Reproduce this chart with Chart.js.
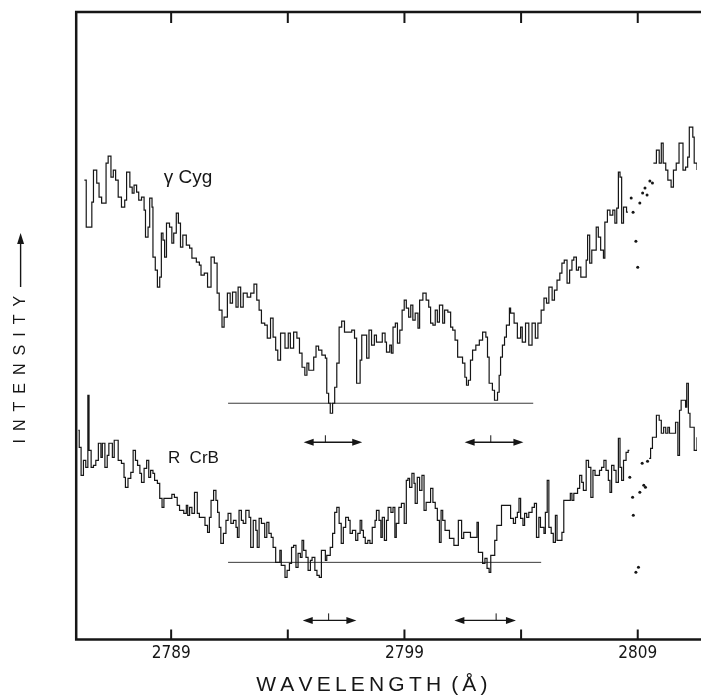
<!DOCTYPE html>
<html>
<head>
<meta charset="utf-8">
<script src="https://cdn.jsdelivr.net/npm/chart.js@4.4.1/dist/chart.umd.min.js"></script>
<style>
html,body{margin:0;padding:0;background:#fff;}
#wrap{width:701px;height:700px;position:relative;}
</style>
</head>
<body>
<div id="wrap"><canvas id="c"></canvas></div>
<script>
// ---- axis ----
const wavelengthMin = 2784.93;
const wavelengthMax = 2811.54;
const tickWavelengths = [2789, 2794, 2799, 2804, 2809];
const labelledWavelengths = [2789, 2799, 2809];

// ---- spectra: [wavelength (Å), intensity (arbitrary units)] ----
const gammaCyg = [
[2785.28,459],[2785.36,412],[2785.60,437],[2785.67,469],[2785.81,456],[2785.91,442],[2786.02,436],[2786.21,476],[2786.30,483],[2786.42,462],[2786.52,469],[2786.62,459],[2786.73,442],[2786.87,432],[2787.01,439],[2787.09,467],[2787.23,452],[2787.33,446],[2787.41,454],[2787.52,447],[2787.61,439],[2787.73,442],[2787.84,429],[2787.90,402],[2788.01,412],[2788.08,441],[2788.18,432],[2788.22,382],[2788.32,369],[2788.41,352],[2788.51,362],[2788.58,406],[2788.65,399],[2788.72,382],[2788.80,416],[2788.93,412],[2789.03,396],[2789.11,406],[2789.22,426],[2789.31,416],[2789.40,392],[2789.50,404],[2789.65,394],[2789.79,391],[2789.89,381],[2790.08,377],[2790.21,374],[2790.28,364],[2790.42,366],[2790.56,352],[2790.71,382],[2790.85,376],[2790.97,346],[2791.06,329],[2791.18,312],[2791.27,322],[2791.41,346],[2791.53,336],[2791.63,347],[2791.78,332],[2791.87,352],[2791.98,332],[2792.09,346],[2792.26,342],[2792.41,346],[2792.55,355],[2792.67,339],[2792.77,329],[2792.87,316],[2793.01,314],[2793.12,301],[2793.26,321],[2793.37,302],[2793.48,289],[2793.57,279],[2793.69,306],[2793.88,291],[2794.02,306],[2794.11,291],[2794.25,307],[2794.39,301],[2794.50,286],[2794.61,272],[2794.73,264],[2794.82,276],[2794.90,269],[2795.11,282],[2795.21,293],[2795.32,289],[2795.46,284],[2795.61,281],[2795.67,246],[2795.75,236],[2795.82,226],[2795.92,236],[2796.01,252],[2796.10,276],[2796.20,312],[2796.31,318],[2796.43,307],[2796.74,309],[2796.86,301],[2796.95,256],[2797.10,279],[2797.17,304],[2797.38,281],[2797.48,309],[2797.59,294],[2797.71,304],[2797.80,297],[2798.05,306],[2798.17,297],[2798.23,287],[2798.37,294],[2798.44,286],[2798.51,312],[2798.61,316],[2798.70,296],[2798.80,309],[2798.90,329],[2798.99,339],[2799.08,331],[2799.18,322],[2799.27,334],[2799.36,319],[2799.46,326],[2799.58,311],[2799.65,339],[2799.79,346],[2799.93,339],[2800.04,332],[2800.12,316],[2800.22,314],[2800.32,329],[2800.41,317],[2800.50,334],[2800.64,316],[2800.72,329],[2800.86,327],[2800.98,312],[2801.07,309],[2801.17,299],[2801.28,282],[2801.49,276],[2801.59,262],[2801.66,254],[2801.74,259],[2801.83,279],[2801.92,289],[2802.06,294],[2802.21,299],[2802.35,307],[2802.49,302],[2802.56,282],[2802.63,256],[2802.77,249],[2802.86,239],[2802.99,247],[2803.06,264],[2803.12,282],[2803.20,294],[2803.29,302],[2803.37,314],[2803.50,331],[2803.55,326],[2803.70,316],[2803.84,301],[2803.98,312],[2804.05,297],[2804.19,316],[2804.33,294],[2804.47,316],[2804.61,301],[2804.72,316],[2804.86,329],[2804.98,341],[2805.09,336],[2805.19,352],[2805.33,339],[2805.43,349],[2805.54,359],[2805.66,366],[2805.75,376],[2805.85,379],[2805.97,356],[2806.08,369],[2806.18,379],[2806.26,382],[2806.37,369],[2806.46,372],[2806.56,362],[2806.79,379],[2806.85,404],[2806.94,376],[2807.03,389],[2807.22,412],[2807.31,402],[2807.41,389],[2807.53,381],[2807.59,417],[2807.70,429],[2807.81,424],[2807.93,429],[2808.02,416],[2808.10,431],[2808.17,467],[2808.24,462],[2808.31,416],[2808.39,432],[2808.52,427],[2808.58,427],[2808.62,null],
[2809.67,476],[2809.80,489],[2809.92,476],[2810.01,496],[2810.09,476],[2810.20,469],[2810.29,459],[2810.43,452],[2810.53,469],[2810.65,476],[2810.77,496],[2810.94,469],[2811.05,472],[2811.14,482],[2811.21,512],[2811.36,502],[2811.42,476],[2811.54,469]
];
const gammaCygDots = [[2808.72,441],[2808.80,427],[2808.92,398],[2809.00,372],[2809.09,436],[2809.21,446],[2809.31,451],[2809.40,444],[2809.52,458],[2809.63,456]];

const rCrB = [
[2785.02,209],[2785.06,192],[2785.14,164],[2785.24,179],[2785.34,172],[2785.43,244],[2785.48,189],[2785.57,172],[2785.67,174],[2785.77,179],[2785.88,196],[2785.99,182],[2786.05,196],[2786.16,172],[2786.26,184],[2786.33,196],[2786.48,182],[2786.56,199],[2786.73,179],[2786.87,176],[2786.98,162],[2787.04,152],[2787.15,161],[2787.27,167],[2787.37,189],[2787.47,179],[2787.56,174],[2787.66,166],[2787.73,157],[2787.84,171],[2787.95,179],[2788.04,162],[2788.12,169],[2788.22,166],[2788.29,159],[2788.41,156],[2788.51,141],[2788.61,132],[2788.69,141],[2789.03,145],[2789.14,142],[2789.26,134],[2789.36,129],[2789.54,126],[2789.65,134],[2789.71,124],[2789.79,132],[2789.89,126],[2790.00,147],[2790.12,126],[2790.21,122],[2790.45,114],[2790.56,107],[2790.64,122],[2790.71,139],[2790.82,149],[2790.92,139],[2790.99,127],[2791.06,112],[2791.13,96],[2791.24,106],[2791.35,119],[2791.44,126],[2791.56,116],[2791.67,119],[2791.78,112],[2791.84,102],[2791.91,129],[2792.01,119],[2792.09,116],[2792.20,129],[2792.34,122],[2792.41,92],[2792.52,119],[2792.63,109],[2792.69,92],[2792.77,121],[2792.87,116],[2793.01,102],[2793.10,117],[2793.19,106],[2793.29,102],[2793.37,92],[2793.48,77],[2793.66,89],[2793.72,74],[2793.88,62],[2793.97,69],[2794.07,76],[2794.16,92],[2794.25,94],[2794.35,72],[2794.44,86],[2794.54,82],[2794.61,99],[2794.68,89],[2794.78,82],[2794.87,69],[2794.97,79],[2795.04,82],[2795.16,69],[2795.25,64],[2795.35,62],[2795.44,89],[2795.61,79],[2795.67,84],[2795.82,92],[2795.92,106],[2796.01,127],[2796.10,132],[2796.20,116],[2796.29,96],[2796.38,112],[2796.48,122],[2796.60,119],[2796.67,106],[2796.77,109],[2796.91,99],[2797.00,106],[2797.10,119],[2797.17,109],[2797.24,102],[2797.32,96],[2797.43,99],[2797.52,96],[2797.62,112],[2797.74,119],[2797.80,129],[2797.91,119],[2797.99,102],[2798.05,122],[2798.14,99],[2798.23,119],[2798.30,132],[2798.42,127],[2798.51,132],[2798.59,102],[2798.65,116],[2798.76,132],[2798.87,136],[2798.99,116],[2799.08,159],[2799.15,161],[2799.22,152],[2799.32,166],[2799.41,156],[2799.46,136],[2799.55,162],[2799.65,149],[2799.75,164],[2799.84,129],[2799.93,137],[2800.12,151],[2800.22,137],[2800.32,131],[2800.41,119],[2800.50,97],[2800.57,129],[2800.64,119],[2800.74,109],[2800.93,101],[2801.12,94],[2801.31,119],[2801.45,101],[2801.54,107],[2801.83,102],[2802.11,117],[2802.17,87],[2802.35,76],[2802.45,81],[2802.54,71],[2802.63,67],[2802.70,84],[2802.87,99],[2802.96,114],[2803.16,134],[2803.55,121],[2803.67,116],[2803.76,122],[2803.84,127],[2803.91,141],[2803.98,121],[2804.08,114],[2804.15,126],[2804.24,122],[2804.33,127],[2804.47,132],[2804.57,136],[2804.66,102],[2804.76,122],[2804.83,112],[2804.98,106],[2805.04,127],[2805.12,159],[2805.19,112],[2805.29,106],[2805.38,97],[2805.47,124],[2805.54,99],[2805.75,107],[2805.83,139],[2806.11,146],[2806.18,139],[2806.26,146],[2806.42,151],[2806.51,164],[2806.60,157],[2806.67,149],[2806.79,179],[2806.89,172],[2806.99,142],[2807.08,169],[2807.17,164],[2807.36,169],[2807.45,172],[2807.55,179],[2807.64,169],[2807.74,159],[2807.81,147],[2807.88,174],[2807.98,169],[2808.07,157],[2808.17,201],[2808.24,172],[2808.31,159],[2808.39,179],[2808.50,187],[2808.59,189],[2808.64,189],[2808.66,null],
[2809.49,181],[2809.55,191],[2809.63,202],[2809.80,224],[2809.92,219],[2810.01,206],[2810.11,212],[2810.20,206],[2810.29,212],[2810.36,206],[2810.62,217],[2810.72,184],[2810.79,229],[2810.86,239],[2811.05,232],[2811.10,256],[2811.17,226],[2811.24,212],[2811.42,189],[2811.54,202]
];
const rCrBDots = [[2808.66,162],[2808.78,142],[2808.81,124],[2808.92,67],[2809.03,72],[2809.09,147],[2809.19,176],[2809.26,154],[2809.33,152],[2809.42,178]];

// ---- continuum reference lines ----
const continuumLevel = [236, 77];
const continuumStart = [2791.44, 2791.44];
const continuumEnd = [2804.52, 2804.86];

// ---- line-position arrows ----
const arrowLevel = [197, 197, 19, 19];
const arrowFrom = [2794.68, 2801.58, 2794.64, 2801.14];
const arrowTo = [2797.19, 2804.10, 2796.94, 2803.78];
const arrowMark = [2795.61, 2802.70, 2795.75, 2802.93];

// ---- star labels ----
const starNames = ['γ Cyg', 'R  CrB'];
const starNameX = [2788.68, 2788.86];
const starNameY = [456, 176];
const starNameSize = [19, 17];

const INK = '#161616';

const framePlugin = {
  id: 'frame',
  afterDatasetsDraw(chart) {
    const {ctx, chartArea: a, scales: {x, y}} = chart;
    ctx.save();
    ctx.strokeStyle = INK;
    ctx.fillStyle = INK;
    ctx.lineCap = 'butt';
    // frame
    ctx.lineWidth = 2.5;
    ctx.beginPath();
    ctx.moveTo(a.left, a.bottom + 1);
    ctx.lineTo(a.left, a.top - 1.25);
    ctx.moveTo(a.left - 1.25, a.top);
    ctx.lineTo(chart.width, a.top);
    ctx.moveTo(a.left - 1.25, a.bottom);
    ctx.lineTo(chart.width, a.bottom);
    ctx.stroke();
    // inward ticks
    ctx.lineWidth = 2;
    ctx.beginPath();
    tickWavelengths.forEach(v => {
      const px = x.getPixelForValue(v);
      ctx.moveTo(px, a.top);
      ctx.lineTo(px, a.top + 11);
      ctx.moveTo(px, a.bottom);
      ctx.lineTo(px, a.bottom - 10);
    });
    ctx.stroke();
    // arrows
    for (let i = 0; i < arrowFrom.length; i++) {
      const x1 = x.getPixelForValue(arrowFrom[i]);
      const x2 = x.getPixelForValue(arrowTo[i]);
      const xm = x.getPixelForValue(arrowMark[i]);
      const yy = y.getPixelForValue(arrowLevel[i]);
      ctx.lineWidth = 1.4;
      ctx.beginPath();
      ctx.moveTo(x1 + 6, yy); ctx.lineTo(x2 - 6, yy);
      ctx.stroke();
      ctx.lineWidth = 1;
      ctx.beginPath();
      ctx.moveTo(xm, yy); ctx.lineTo(xm, yy - 7);
      ctx.stroke();
      ctx.beginPath();
      ctx.moveTo(x1, yy); ctx.lineTo(x1 + 10, yy - 3.5); ctx.lineTo(x1 + 10, yy + 3.5); ctx.closePath();
      ctx.moveTo(x2, yy); ctx.lineTo(x2 - 10, yy - 3.5); ctx.lineTo(x2 - 10, yy + 3.5); ctx.closePath();
      ctx.fill();
    }
    // star labels
    ctx.textBaseline = 'alphabetic';
    ctx.textAlign = 'left';
    for (let i = 0; i < starNames.length; i++) {
      ctx.font = starNameSize[i] + 'px "Liberation Sans", Arial, sans-serif';
      ctx.fillText(starNames[i], x.getPixelForValue(starNameX[i]), y.getPixelForValue(starNameY[i]));
    }
    // intensity arrow beside the y title
    const ax = y.left + 11 + 9.6;
    ctx.lineWidth = 1.4;
    ctx.beginPath();
    ctx.moveTo(ax, 287); ctx.lineTo(ax, 242);
    ctx.stroke();
    ctx.beginPath();
    ctx.moveTo(ax, 233); ctx.lineTo(ax - 3.5, 244); ctx.lineTo(ax + 3.5, 244); ctx.closePath();
    ctx.fill();
    ctx.restore();
  }
};

const traceStyle = {stepped: true, borderColor: INK, borderWidth: 1.2, pointRadius: 0, spanGaps: false, fill: false};
const dotStyle = {showLine: false, pointRadius: 1.5, pointBackgroundColor: INK, pointBorderWidth: 0, borderColor: INK};
const contStyle = {borderColor: '#3a3a3a', borderWidth: 1, pointRadius: 0, fill: false};

new Chart(document.getElementById('c'), {
  type: 'line',
  data: {
    datasets: [
      Object.assign({label: 'γ Cyg', data: gammaCyg}, traceStyle),
      Object.assign({label: 'R CrB', data: rCrB}, traceStyle),
      Object.assign({label: 'γ Cyg (points)', data: gammaCygDots}, dotStyle),
      Object.assign({label: 'R CrB (points)', data: rCrBDots}, dotStyle),
      Object.assign({label: 'γ Cyg continuum', data: [[continuumStart[0], continuumLevel[0]], [continuumEnd[0], continuumLevel[0]]]}, contStyle),
      Object.assign({label: 'R CrB continuum', data: [[continuumStart[1], continuumLevel[1]], [continuumEnd[1], continuumLevel[1]]]}, contStyle)
    ]
  },
  options: {
    responsive: true,
    maintainAspectRatio: false,
    animation: false,
    layout: {padding: {top: 12, left: 0, right: 0, bottom: 0}},
    plugins: {legend: {display: false}, tooltip: {enabled: false}},
    scales: {
      x: {
        type: 'linear',
        min: wavelengthMin,
        max: wavelengthMax,
        grid: {display: false, drawTicks: false},
        border: {display: false},
        afterBuildTicks: s => { s.ticks = labelledWavelengths.map(v => ({value: v})); },
        ticks: {
          padding: 4, autoSkip: false, maxRotation: 0, color: INK,
          font: {family: '"DejaVu Sans Condensed", "DejaVu Sans", sans-serif', size: 17},
          callback: v => String(v)
        },
        title: {
          display: true,
          text: 'W\u2009A\u2009V\u2009E\u2009L\u2009E\u2009N\u2009G\u2009T\u2009H \u2009(\u2009Å\u2009)\u2003\u2009\u2009',
          color: INK,
          font: {family: '"Liberation Sans", Arial, sans-serif', size: 21},
          padding: {top: 5, bottom: 2}
        }
      },
      y: {
        type: 'linear',
        min: 0,
        max: 627,
        ticks: {display: false},
        grid: {display: false, drawTicks: false},
        border: {display: false},
        title: {
          display: true,
          text: 'I\u2002N\u2002T\u2002E\u2002N\u2002S\u2002I\u2002T\u2002Y\u2003\u2003\u2003\u2003\u2003\u2002',
          color: INK,
          font: {family: '"Liberation Sans", Arial, sans-serif', size: 16},
          padding: {top: 11, bottom: 46}
        }
      }
    }
  },
  plugins: [framePlugin]
});
</script>
</body>
</html>
